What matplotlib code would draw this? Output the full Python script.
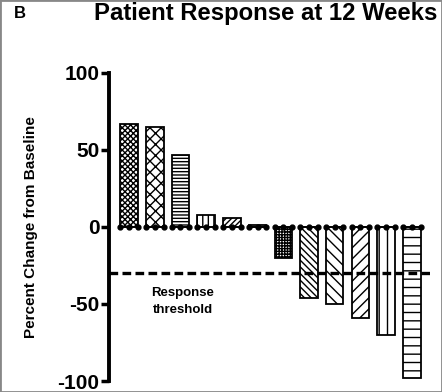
import matplotlib
matplotlib.use("Agg")
import matplotlib.pyplot as plt
from matplotlib.patches import Rectangle

plt.rcParams['font.family'] = ['Liberation Sans', 'DejaVu Sans']
plt.rcParams['hatch.linewidth'] = 1.0

patients = list(range(1, 13))
changes = [67, 65, 47, 8, 6, 1, -20, -46, -50, -59, -70, -98]
hatches = ['xxxxxx', 'xxx', '-----', '|||', '//////', '', '++++++', '\\\\\\\\\\', '\\\\\\', '///', '||', '--']
threshold = -30
yticks = [-100, -50, 0, 50, 100]

fig = plt.figure(figsize=(4.42, 3.92), dpi=100)
ax = fig.add_axes([0.2466, 0.028, 0.726, 0.786])

xs = list(range(len(changes)))
for x, v, h in zip(xs, changes, hatches):
    ax.bar(x, v, width=0.68, color='white', edgecolor='black', hatch=h, linewidth=1.3, zorder=2)

# zero line dots
for x in xs:
    ax.plot([x - 0.34, x, x + 0.34], [0, 0, 0], 'o', color='black', markersize=3.5, zorder=3)
    ax.plot([x - 0.34, x + 0.34], [0, 0], color='black', lw=1.2, zorder=3)

ax.axhline(threshold, color='black', lw=2.4, ls=(0, (2.6, 1.3)), zorder=4)
ax.text(2.1, -48.5, 'Response\nthreshold', ha='center', va='center', fontsize=9.5,
        fontweight='bold', linespacing=1.5)

ax.set_xlim(-0.78, 11.7)
ax.set_ylim(-100, 100)
ax.set_yticks(yticks)
ax.set_yticklabels([str(t) for t in yticks], fontsize=15, fontweight='bold')
ax.set_xticks([])
for s in ['top', 'right', 'bottom']:
    ax.spines[s].set_visible(False)
ax.spines['left'].set_linewidth(2.8)
ax.tick_params(axis='y', width=2.5, length=6, pad=1)
ax.set_ylabel('Percent Change from Baseline', fontsize=11, fontweight='bold', labelpad=14)

fig.text(0.602, 1 - 20 / 392, 'Patient Response at 12 Weeks', ha='center', va='baseline',
         fontsize=17.2, fontweight='bold')
fig.text(0.045, 0.965, 'B', ha='center', va='center', fontsize=12, fontweight='bold')

fig.patches.append(Rectangle((0, 0), 1, 1, transform=fig.transFigure, fill=False,
                             edgecolor='#888888', lw=2, zorder=10))

fig.savefig('out.png', dpi=100)
